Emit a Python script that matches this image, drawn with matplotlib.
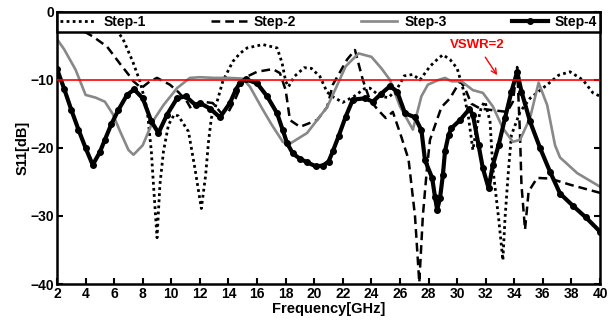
import numpy as np
import matplotlib
matplotlib.use("Agg")
import matplotlib.pyplot as plt

# S11 curves (frequency in GHz, S11 in dB)
f1 = [2, 4, 6, 6.6, 7.3, 7.8, 8.3, 8.6, 8.75, 9.0, 9.2, 9.45, 9.8, 10.2, 10.5,
      11.2, 11.65, 12.1, 12.4, 12.6, 12.8, 13.2, 13.6, 14.3, 14.8, 15.3, 16.4,
      17.4, 17.75, 18.0, 18.2, 18.6, 19.3, 19.8, 20.4, 20.9, 21.4, 22.0, 22.8,
      23.5, 23.9, 24.6, 25.2, 25.8, 26.3, 26.9, 27.4, 28.1, 28.6, 29.0, 29.5,
      30.0, 30.4, 30.8, 31.1, 31.4, 31.7, 31.95, 32.3, 32.5, 32.9, 33.2, 33.35,
      33.6, 33.8, 34.4, 35.1, 36.3, 37.1, 37.9, 38.8, 39.5, 40]
s1 = [-1.5, -1.2, -2.3, -3.9, -7.3, -10.2, -14.2, -20.5, -25.4, -33.2, -25.4,
      -20.5, -16.6, -15.1, -15.3, -17.6, -23.0, -28.9, -24.0, -19.1, -15.6,
      -13.2, -10.2, -7.3, -6.1, -5.3, -4.8, -5.3, -7.5, -10.2, -11.0, -9.5,
      -8.2, -8.3, -9.5, -11.8, -12.6, -13.3, -12.4, -11.3, -11.2, -12.4, -12.6,
      -11.3, -9.4, -9.2, -10.0, -8.0, -7.0, -6.3, -7.0, -8.3, -11.2, -15.6,
      -20.3, -16.6, -13.9, -13.2, -16.1, -23.0, -30.3, -36.5, -30.3, -23.0,
      -18.1, -14.7, -12.7, -10.7, -9.3, -8.8, -10.0, -11.9, -12.4]

f2 = [2, 3, 4, 4.5, 5.5, 6.4, 7.0, 7.35, 7.9, 8.5, 9.0, 9.9, 10.5, 11.1, 11.4,
      12.2, 12.9, 13.5, 14.0, 14.5, 14.8, 15.2, 16.0, 17.1, 17.6, 18.0, 18.3,
      19.0, 20.2, 20.9, 21.3, 22.3, 22.85, 23.4, 23.9, 24.5, 25.0, 25.5, 26.1,
      26.6, 27.05, 27.35, 27.6, 27.9, 28.1, 28.9, 29.5, 30.2, 30.5, 31.0, 31.6,
      32.3, 33.5, 33.9, 34.2, 34.4, 34.5, 34.75, 35.0, 35.6, 36.5, 37.9, 40]
s2 = [-2.5, -2.7, -3.0, -3.6, -5.1, -7.6, -9.2, -10.2, -11.2, -10.2, -9.7,
      -10.7, -11.8, -13.2, -14.3, -13.2, -13.4, -14.9, -14.7, -12.7, -11.2,
      -9.6, -8.8, -8.4, -9.0, -11.5, -15.9, -16.9, -15.9, -14.0, -10.7, -7.0,
      -5.6, -10.0, -13.0, -14.5, -15.6, -14.7, -18.4, -21.7, -30.0, -39.8,
      -30.0, -22.7, -18.8, -14.0, -12.7, -10.2, -11.0, -13.5, -14.2, -14.4,
      -14.7, -13.2, -8.1, -18.1, -25.4, -32.0, -26.4, -24.4, -24.5, -25.4, -26.6]

f3 = [2, 2.5, 3.3, 4.0, 4.7, 5.35, 5.9, 6.4, 7.0, 7.35, 8.0, 8.7, 9.45, 10.4,
      11.3, 12.0, 13.0, 14.0, 15.0, 15.5, 16.3, 17.0, 17.8, 18.2, 19.5, 20.9,
      21.45, 22.2, 23.1, 24.0, 24.7, 25.3, 26.0, 26.9, 27.5, 27.95, 28.7, 29.15,
      29.6, 30.3, 31.1, 31.8, 32.5, 33.2, 33.9, 34.4, 35.1, 35.7, 36.3, 36.85,
      37.2, 38.4, 40]
s3 = [-4.0, -5.5, -8.5, -12.2, -12.6, -13.2, -15.0, -17.5, -20.3, -21.0,
      -19.6, -16.1, -13.7, -11.2, -9.7, -9.6, -9.7, -9.7, -9.8, -11.0, -14.0,
      -16.5, -19.1, -19.5, -17.8, -14.0, -11.5, -8.0, -6.1, -6.6, -8.3, -10.0,
      -13.9, -17.3, -12.4, -10.7, -10.0, -9.7, -10.2, -10.2, -11.5, -11.9,
      -13.9, -17.1, -19.1, -18.8, -15.6, -10.4, -13.7, -19.6, -21.4, -23.7, -25.7]

f4 = [2, 2.5, 3.0, 3.5, 4.0, 4.5, 5.0, 5.35, 5.8, 6.3, 6.9, 7.4, 8.0, 8.6, 9.1,
      9.7, 10.4, 11.0, 11.7, 12.0, 12.7, 13.4, 14.1, 14.5, 14.8, 15.2, 16.0,
      16.7, 17.4, 17.8, 18.1, 18.5, 19.0, 19.5, 20.1, 20.6, 21.0, 21.3, 21.7,
      22.2, 22.7, 23.55, 24.1, 24.7, 25.3, 25.8, 26.35, 27.05, 27.5, 27.75,
      28.25, 28.45, 28.6, 28.8, 29.0, 29.15, 29.4, 29.6, 30.2, 30.85, 31.1,
      31.5, 31.8, 32.2, 32.5, 32.9, 33.35, 33.8, 34.2, 34.5, 35.1, 35.8, 36.5,
      37.2, 38.1, 39.0, 40]
s4 = [-8.4, -11.3, -14.4, -17.3, -20.0, -22.5, -20.6, -18.8, -16.5, -14.4,
      -12.2, -11.4, -12.7, -16.1, -17.8, -15.1, -12.7, -12.4, -13.7, -13.4,
      -14.2, -15.5, -13.4, -11.5, -10.4, -9.9, -10.5, -12.4, -14.9, -17.4,
      -19.3, -20.8, -21.6, -22.1, -22.7, -22.6, -22.0, -20.5, -18.3, -15.4,
      -12.9, -12.7, -13.2, -12.0, -10.9, -11.7, -14.9, -15.5, -17.4, -21.8,
      -24.4, -27.2, -29.1, -27.4, -24.0, -20.5, -18.1, -17.1, -15.9, -14.3,
      -15.1, -19.6, -23.0, -25.9, -22.5, -19.6, -15.6, -11.7, -8.8, -11.7,
      -16.1, -20.0, -23.5, -26.7, -28.5, -30.2, -32.3]

x_ticks = np.arange(2, 41, 2)
y_ticks = [0, -10, -20, -30, -40]

plt.rcParams['font.family'] = ['Liberation Sans', 'DejaVu Sans']
plt.rcParams['font.weight'] = 'bold'

fig = plt.figure(figsize=(6.15, 3.22), dpi=100)
ax = fig.add_axes([0.0927, 0.118, 0.883, 0.845])

ax.plot(f1, s1, color='black', lw=2.0, linestyle=(0, (1, 1.2)), label='Step-1')
ax.plot(f2, s2, color='black', lw=1.8, linestyle=(0, (3.5, 2)), label='Step-2')
ax.plot(f3, s3, color='#888888', lw=1.9, label='Step-3')
ax.plot(f4, s4, color='black', lw=3.0, marker='o', markersize=4, label='Step-4')

ax.axhline(-10, color='red', lw=1.2, zorder=3)
ax.annotate('VSWR=2', xy=(32.8, -9.3), xytext=(31.4, -4.85), color='red',
            fontsize=9.5, fontweight='bold', ha='center', va='center',
            arrowprops=dict(arrowstyle='->', color='red', lw=1.0, shrinkA=3, shrinkB=0))

ax.set_xlim(2, 40)
ax.set_ylim(-40, 0)
ax.set_xticks(x_ticks)
ax.set_yticks(y_ticks)
ax.tick_params(direction='in', length=4, width=1.5, labelsize=10, pad=2,
               right=True)
for s in ax.spines.values():
    s.set_linewidth(1.8)

ax.set_xlabel('Frequency[GHz]', fontsize=10.5, fontweight='bold', labelpad=1)
ax.set_ylabel('S11[dB]', fontsize=10.5, fontweight='bold', labelpad=1)

leg = ax.legend(loc='upper left', bbox_to_anchor=(0, 1, 1, 0), mode='expand',
                ncol=4, borderaxespad=0, fancybox=False, fontsize=10,
                handlelength=2.6, handletextpad=0.5, framealpha=1,
                borderpad=0.22)
leg.get_frame().set_edgecolor('black')
leg.get_frame().set_linewidth(1.8)

fig.savefig('out.png', dpi=100)
